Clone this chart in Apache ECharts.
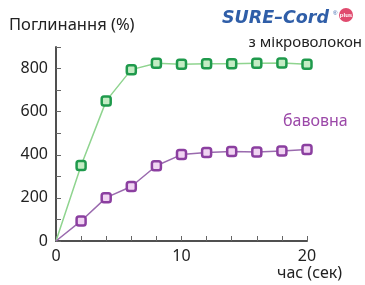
<!DOCTYPE html>
<html><head><meta charset="utf-8">
<script src="https://cdn.jsdelivr.net/npm/echarts@6/dist/echarts.min.js"></script>
<style>html,body{margin:0;padding:0;background:#fff}#c{width:365px;height:285px}</style>
</head><body><div id="c"></div>
<script>
var timeSec = [0, 2, 4, 6, 8, 10, 12, 14, 16, 18, 20];
var microfiber = [0, 350, 650, 795, 825, 820, 822, 822, 825, 826, 820];
var cotton = [0, 93, 201, 253, 349, 401, 411, 415, 413, 418, 424];
var xLabels = [0, 10, 20];
var yLabels = [0, 200, 400, 600, 800];

var FONT = '"Noto Sans", "Open Sans", sans-serif';
function pairs(vals) {
  return timeSec.map(function (t, i) {
    var p = { value: [t, vals[i]] };
    if (i === 0) p.symbolSize = 0;
    return p;
  });
}
var chart = echarts.init(document.getElementById('c'), null, { renderer: 'canvas' });
chart.setOption({
  animation: false,
  grid: { left: 56, right: 58, top: 47, bottom: 44 },
  xAxis: {
    type: 'value', min: 0, max: 20, interval: 2,
    axisLine: { lineStyle: { color: '#505050', width: 2 } },
    axisTick: { inside: true, length: 5, lineStyle: { color: '#666', width: 1 } },
    splitLine: { show: false },
    axisLabel: { color: '#222', fontSize: 16, fontFamily: FONT, margin: 7,
      formatter: function (v) { return xLabels.indexOf(v) >= 0 ? String(v) : ''; } }
  },
  yAxis: {
    type: 'value', min: 0, max: 900, interval: 100,
    axisLine: { show: true, lineStyle: { color: '#505050', width: 2 } },
    axisTick: { show: true, inside: true, length: 5, lineStyle: { color: '#666', width: 1 } },
    splitLine: { show: false },
    axisLabel: { color: '#222', fontSize: 16, fontFamily: FONT, margin: 8,
      formatter: function (v) { return yLabels.indexOf(v) >= 0 ? String(v) : ''; } }
  },
  series: [
    { type: 'line', data: pairs(microfiber), symbol: 'roundRect', symbolSize: 9,
      lineStyle: { color: '#8fd48f', width: 1.5 },
      itemStyle: { color: '#c4ecc4', borderColor: '#1f9a4c', borderWidth: 2.5 } },
    { type: 'line', data: pairs(cotton), symbol: 'roundRect', symbolSize: 9,
      lineStyle: { color: '#9a6aae', width: 1.5 },
      itemStyle: { color: '#f0d4f2', borderColor: '#8b3fa0', borderWidth: 2.5 } }
  ],
  graphic: [
    { type: 'text', left: 9, top: 17, style: { text: 'Поглинання (%)', fill: '#222', font: '16.5px ' + FONT } },
    { type: 'text', right: 3, top: 35, style: { text: 'з мікроволокон', fill: '#222', font: '15px ' + FONT } },
    { type: 'text', left: 283, top: 113, style: { text: 'бавовна', fill: '#9b48a8', font: '16px ' + FONT } },
    { type: 'text', left: 277, top: 265, style: { text: 'час (сек)', fill: '#222', font: '16px ' + FONT } },
    { type: 'text', left: 222, top: 9, style: { text: 'SURE–Cord', fill: '#2f5ea8', font: 'italic bold 17.5px "DejaVu Sans", sans-serif' } },
    { type: 'text', left: 333, top: 10, style: { text: '®', fill: '#2f5ea8', font: '6px sans-serif' } },
    { type: 'circle', shape: { cx: 346, cy: 15, r: 7 }, style: { fill: '#e04a6e' } },
    { type: 'text', x: 346, y: 15, style: { text: 'plus', fill: '#fff', font: 'bold 6px sans-serif', align: 'center', verticalAlign: 'middle' } }
  ]
});
</script></body></html>
